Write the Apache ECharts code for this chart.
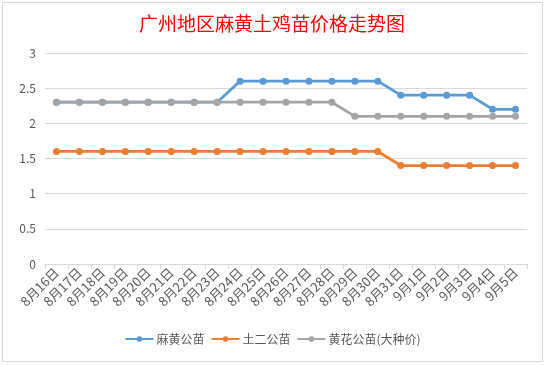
<!DOCTYPE html>
<html><head><meta charset="utf-8">
<script src="https://cdn.jsdelivr.net/npm/echarts@6/dist/echarts.min.js"></script>
<style>html,body{margin:0;padding:0;background:#fff;}#c{width:545px;height:365px;}</style>
</head><body><div id="c"></div>
<script>
const categories = ['8月16日','8月17日','8月18日','8月19日','8月20日','8月21日','8月22日','8月23日','8月24日','8月25日','8月26日','8月27日','8月28日','8月29日','8月30日','8月31日','9月1日','9月2日','9月3日','9月4日','9月5日'];
const mahuang = [2.3,2.3,2.3,2.3,2.3,2.3,2.3,2.3,2.6,2.6,2.6,2.6,2.6,2.6,2.6,2.4,2.4,2.4,2.4,2.2,2.2];
const tuer = [1.6,1.6,1.6,1.6,1.6,1.6,1.6,1.6,1.6,1.6,1.6,1.6,1.6,1.6,1.6,1.4,1.4,1.4,1.4,1.4,1.4];
const huanghua = [2.3,2.3,2.3,2.3,2.3,2.3,2.3,2.3,2.3,2.3,2.3,2.3,2.3,2.1,2.1,2.1,2.1,2.1,2.1,2.1,2.1];
const seriesNames = ['麻黄公苗','土二公苗','黄花公苗(大种价)'];
const colors = ['#5B9BD5','#ED7D31','#A5A5A5'];
const font = '"Noto Sans CJK SC", "Noto Sans", sans-serif';
const chart = echarts.init(document.getElementById('c'));
const mk = (name, data, color) => ({
  name, type:'line', data, color, symbol:'circle', symbolSize:7,
  lineStyle:{width:2.75, color}, itemStyle:{color}
});
chart.setOption({
  animation:false,
  textStyle:{fontFamily:font},
  graphic:[{type:'rect', shape:{x:2.5,y:2.5,width:540,height:359}, style:{fill:'none', stroke:'#d9d9d9', lineWidth:1}, z:-1}],
  title:{text:'广州地区麻黄土鸡苗价格走势图', left:134, top:9, padding:[5,5],
    textStyle:{color:'#ff0000', fontSize:19, fontWeight:'normal', fontFamily:font}},
  grid:{left:45, right:18, top:53, bottom:101, containLabel:false},
  legend:{bottom:15, left:'center', itemWidth:28, itemHeight:7, itemGap:6,
    textStyle:{color:'#595959', fontSize:12, fontFamily:font, padding:[0,0,0,-2]}},
  xAxis:{type:'category', data:categories, boundaryGap:true,
    axisLine:{lineStyle:{color:'#d9d9d9'}},
    axisTick:{show:true, lineStyle:{color:'#d9d9d9'}, length:5},
    axisLabel:{rotate:45, color:'#595959', fontSize:13, interval:0, margin:6, fontFamily:font}},
  yAxis:{type:'value', min:0, max:3, interval:0.5,
    axisLine:{show:false}, axisTick:{show:false},
    splitLine:{lineStyle:{color:'#d9d9d9'}},
    axisLabel:{color:'#595959', fontSize:12, margin:9, fontFamily:font}},
  series:[mk(seriesNames[0], mahuang, colors[0]), mk(seriesNames[1], tuer, colors[1]), mk(seriesNames[2], huanghua, colors[2])]
});
</script></body></html>
